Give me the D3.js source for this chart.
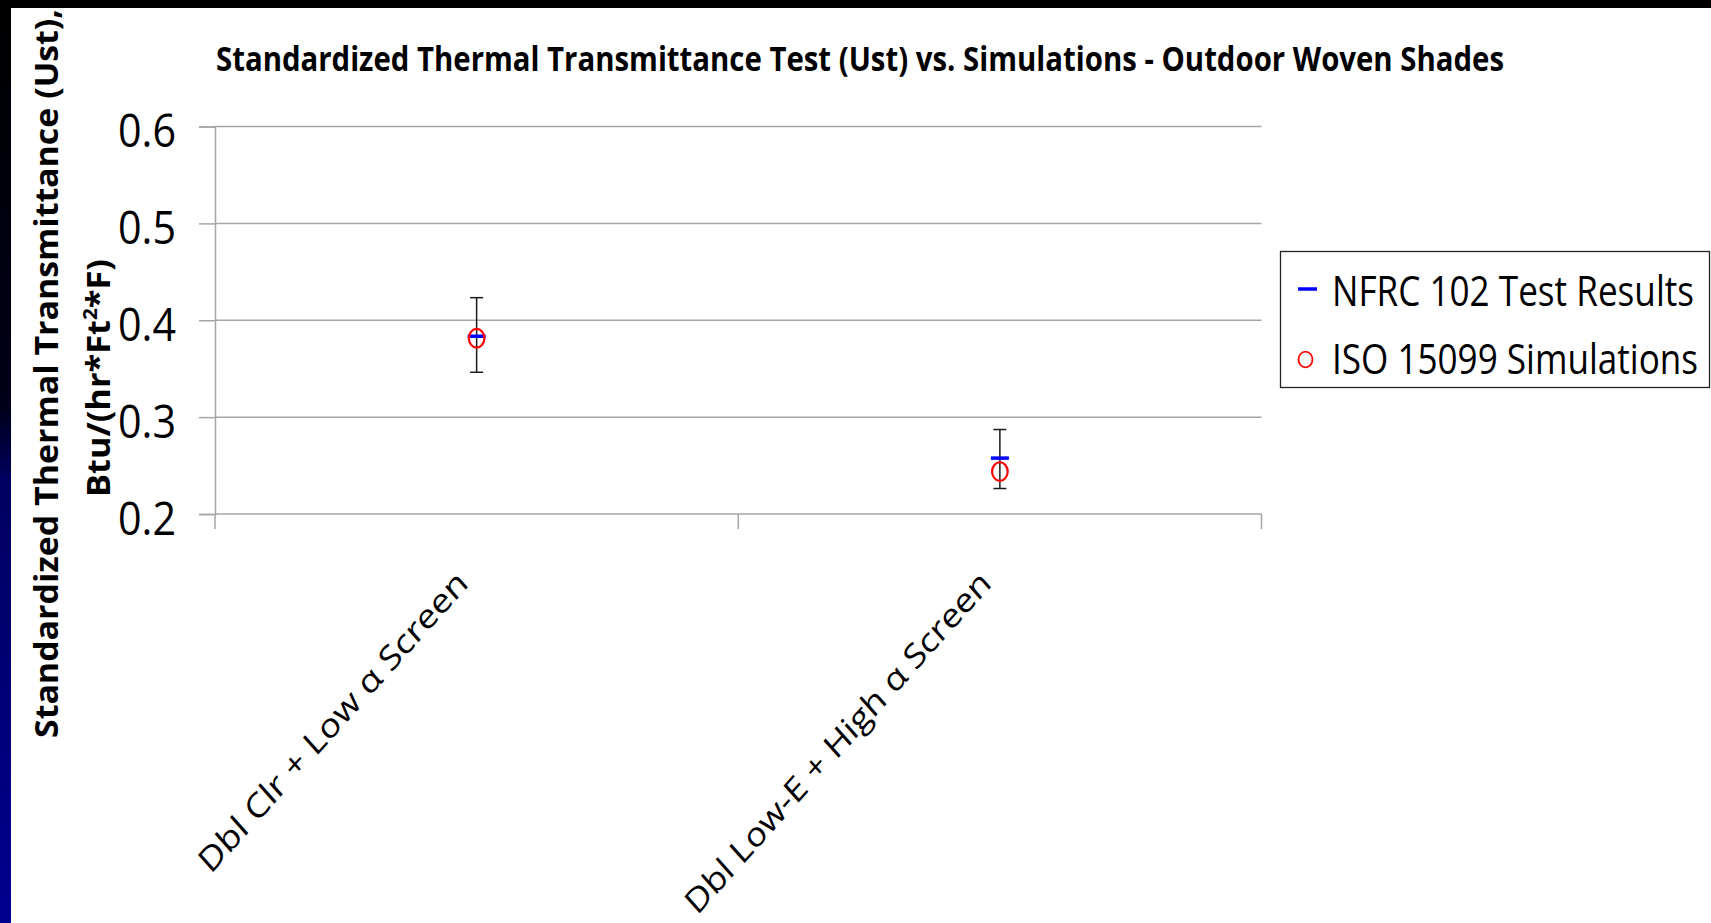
<!DOCTYPE html>
<html>
<head>
<meta charset="utf-8">
<script src="https://cdn.jsdelivr.net/npm/d3@7/dist/d3.min.js"></script>
<style>
  html, body { margin: 0; padding: 0; background: #ffffff; }
  svg { display: block; }
</style>
</head>
<body>
<svg id="chart" width="1711" height="923"></svg>
<script>
// ---------------- data ----------------
const categories = ["Dbl Clr + Low \u03B1 Screen", "Dbl Low-E + High \u03B1 Screen"];
const nfrcValues = [0.3835, 0.2577];          // NFRC 102 Test Results
const nfrcErrLow = [0.3463, 0.2263];          // error bar lower ends
const nfrcErrHigh = [0.4233, 0.2872];         // error bar upper ends
const isoValues = [0.3814, 0.2438];           // ISO 15099 Simulations
const yTicks = [0.2, 0.3, 0.4, 0.5, 0.6];
const yTickLabels = ["0.2", "0.3", "0.4", "0.5", "0.6"];
const seriesNames = ["NFRC 102 Test Results", "ISO 15099 Simulations"];
const titleText = "Standardized Thermal Transmittance Test (Ust) vs. Simulations - Outdoor Woven Shades";

// ---------------- layout ----------------
const W = 1711, H = 923;
const plot = { left: 215, right: 1261.5, top: 126.5, bottom: 514 };
const svg = d3.select("#chart");

// background decorations (slide frame)
const defs = svg.append("defs");
const grad = defs.append("linearGradient").attr("id", "leftStrip")
  .attr("x1", 0).attr("y1", 0).attr("x2", 0).attr("y2", 1);
grad.append("stop").attr("offset", "0%").attr("stop-color", "#000000");
grad.append("stop").attr("offset", "44%").attr("stop-color", "#00001a");
grad.append("stop").attr("offset", "52%").attr("stop-color", "#000060");
grad.append("stop").attr("offset", "100%").attr("stop-color", "#000090");
svg.append("rect").attr("x", 0).attr("y", 0).attr("width", W).attr("height", H).attr("fill", "#ffffff");
svg.append("rect").attr("x", 0).attr("y", 0).attr("width", 11).attr("height", H).attr("fill", "url(#leftStrip)");
svg.append("rect").attr("x", 0).attr("y", 0).attr("width", W).attr("height", 8).attr("fill", "#000000");

// scales
const x = d3.scaleBand().domain(categories).range([plot.left, plot.right]).padding(0);
const y = d3.scaleLinear().domain([0.2, 0.6]).range([plot.bottom, plot.top]);

// gridlines
svg.append("g").selectAll("line").data(yTicks).join("line")
  .attr("x1", plot.left).attr("x2", plot.right)
  .attr("y1", d => y(d)).attr("y2", d => y(d))
  .attr("stroke", "#a6a6a6").attr("stroke-width", 1.5);

// y axis
const yAxis = d3.axisLeft(y).tickValues(yTicks).tickSize(16)
  .tickFormat((d, i) => yTickLabels[i]).tickPadding(23);
const gy = svg.append("g").attr("transform", `translate(${plot.left},0)`).call(yAxis);
gy.select(".domain").attr("stroke", "#a6a6a6").attr("stroke-width", 1.5);
gy.selectAll(".tick line").attr("stroke", "#a6a6a6").attr("stroke-width", 1.5);
gy.selectAll(".tick text")
  .attr("font-family", "'Open Sans', sans-serif")
  .attr("font-size", 46)
  .attr("fill", "#000")
  .attr("dy", "0.44em")
  .attr("textLength", 58)
  .attr("lengthAdjust", "spacingAndGlyphs");

// x axis (category boundaries ticks)
const boundaries = [plot.left].concat(categories.map(c => x(c) + x.bandwidth()));
svg.append("g").selectAll("line").data(boundaries).join("line")
  .attr("x1", d => d).attr("x2", d => d)
  .attr("y1", plot.bottom).attr("y2", plot.bottom + 15)
  .attr("stroke", "#a6a6a6").attr("stroke-width", 1.5);

// x category labels (rotated, slightly stretched like the original)
const labelLen = [366, 418];
svg.append("g").selectAll("text").data(categories).join("text")
  .attr("transform", d => `translate(${x(d) + x.bandwidth() / 2 - 7},${plot.bottom + 71}) scale(1,1.12) rotate(-45)`)
  .attr("text-anchor", "end")
  .attr("font-family", "'Open Sans', sans-serif")
  .attr("font-size", 30)
  .attr("fill", "#000")
  .attr("textLength", (d, i) => labelLen[i])
  .attr("lengthAdjust", "spacingAndGlyphs")
  .text(d => d);

// error bars
const eb = svg.append("g");
categories.forEach((c, i) => {
  const cx = x(c) + x.bandwidth() / 2;
  eb.append("line").attr("x1", cx).attr("x2", cx)
    .attr("y1", y(nfrcErrHigh[i])).attr("y2", y(nfrcErrLow[i]))
    .attr("stroke", "#1a1a1a").attr("stroke-width", 1.5);
  [nfrcErrHigh[i], nfrcErrLow[i]].forEach(v => {
    eb.append("line").attr("x1", cx - 6.5).attr("x2", cx + 6.5)
      .attr("y1", y(v)).attr("y2", y(v))
      .attr("stroke", "#1a1a1a").attr("stroke-width", 1.5);
  });
});

// NFRC markers (blue dash)
svg.append("g").selectAll("line").data(nfrcValues).join("line")
  .attr("x1", (d, i) => x(categories[i]) + x.bandwidth() / 2 - 9)
  .attr("x2", (d, i) => x(categories[i]) + x.bandwidth() / 2 + 9)
  .attr("y1", d => y(d)).attr("y2", d => y(d))
  .attr("stroke", "#0000ff").attr("stroke-width", 3.5);

// ISO markers (red open circle)
svg.append("g").selectAll("ellipse").data(isoValues).join("ellipse")
  .attr("cx", (d, i) => x(categories[i]) + x.bandwidth() / 2)
  .attr("cy", d => y(d))
  .attr("rx", 7.8).attr("ry", 9.3)
  .attr("fill", "none").attr("stroke", "#ff0000").attr("stroke-width", 2.2);

// title
svg.append("text")
  .attr("x", 216).attr("y", 71)
  .attr("font-family", "'Open Sans', sans-serif")
  .attr("font-weight", "bold")
  .attr("font-size", 34)
  .attr("fill", "#000")
  .attr("textLength", 1288)
  .attr("lengthAdjust", "spacingAndGlyphs")
  .text(titleText);

// y axis title (two lines)
svg.append("text")
  .attr("transform", "translate(58,738) rotate(-90)")
  .attr("font-family", "'Open Sans', sans-serif")
  .attr("font-weight", "bold")
  .attr("font-size", 33)
  .attr("fill", "#000")
  .attr("textLength", 729)
  .attr("lengthAdjust", "spacingAndGlyphs")
  .text("Standardized Thermal Transmittance (Ust),");
const yt2 = svg.append("text")
  .attr("transform", "translate(110,497) rotate(-90)")
  .attr("font-family", "'Open Sans', sans-serif")
  .attr("font-weight", "bold")
  .attr("font-size", 33)
  .attr("fill", "#000")
  .attr("textLength", 238)
  .attr("lengthAdjust", "spacingAndGlyphs");
yt2.append("tspan").text("Btu/(hr*Ft");
yt2.append("tspan").attr("font-size", 20).attr("dy", -13).text("2");
yt2.append("tspan").attr("dy", 13).text("*F)");

// legend
const lg = svg.append("g");
lg.append("rect").attr("x", 1280.5).attr("y", 251.5).attr("width", 429).attr("height", 136)
  .attr("fill", "#ffffff").attr("stroke", "#222").attr("stroke-width", 1.3);
lg.append("line").attr("x1", 1298).attr("x2", 1317).attr("y1", 289).attr("y2", 289)
  .attr("stroke", "#0000ff").attr("stroke-width", 3.5);
lg.append("ellipse").attr("cx", 1305.5).attr("cy", 359.5).attr("rx", 7).attr("ry", 7.8)
  .attr("fill", "none").attr("stroke", "#ff0000").attr("stroke-width", 1.8);
const legendY = [306, 374];
const legendLen = [362, 366];
lg.selectAll("text.lt").data(seriesNames).join("text")
  .attr("class", "lt")
  .attr("transform", (d, i) => `translate(1332,${legendY[i]}) scale(1,1.2)`)
  .attr("font-family", "'Open Sans', sans-serif")
  .attr("font-size", 35)
  .attr("fill", "#000")
  .attr("textLength", (d, i) => legendLen[i])
  .attr("lengthAdjust", "spacingAndGlyphs")
  .text(d => d);
</script>
</body>
</html>
